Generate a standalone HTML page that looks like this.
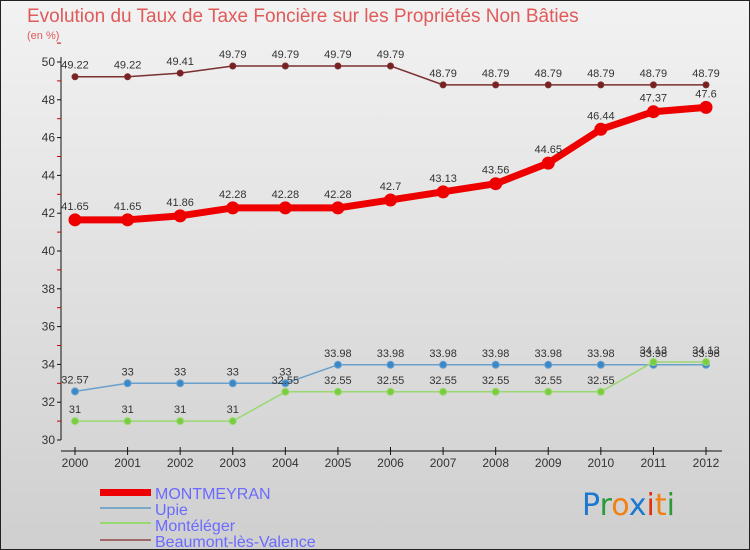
<!DOCTYPE html>
<html><head><meta charset="utf-8"><style>
body{margin:0;}
svg{display:block;font-family:"Liberation Sans",sans-serif;}
</style></head><body>
<svg width="750" height="550" viewBox="0 0 750 550">
<defs><linearGradient id="bg" x1="0" y1="0" x2="0" y2="1"><stop offset="0" stop-color="#f2f2f2"/><stop offset="1" stop-color="#cfcfcf"/></linearGradient></defs>
<rect x="0.5" y="0.5" width="749" height="549" fill="url(#bg)" stroke="#222"/>
<text x="27" y="22" font-size="19" fill="#e05a5a">Evolution du Taux de Taxe Foncière sur les Propriétés Non Bâties</text>
<text x="27" y="39" font-size="11" fill="#e05a5a">(en %)</text>
<g id="axes"></g>
<g id="series"></g>
<g>
<rect x="100" y="489" width="51" height="7" fill="#e00"/>
<text x="155" y="499" font-size="16" fill="#6a6aff">MONTMEYRAN</text>
<rect x="100" y="507" width="51" height="2" fill="#7aa8c8"/>
<text x="155" y="515" font-size="16" fill="#6a6aff">Upie</text>
<rect x="100" y="522" width="51" height="2" fill="#98d870"/>
<text x="155" y="531" font-size="16" fill="#6a6aff">Montéléger</text>
<rect x="100" y="539" width="51" height="2" fill="#a06868"/>
<text x="155" y="547" font-size="16" fill="#6a6aff">Beaumont-lès-Valence</text>
</g>
<g font-size="30" font-family="'DejaVu Sans',sans-serif">
<text x="582" y="515"><tspan fill="#1a78d0">P</tspan><tspan fill="#2a9a3a">r</tspan><tspan fill="#f08010">o</tspan><tspan fill="#1a78d0">x</tspan><tspan fill="#e03010">i</tspan><tspan fill="#f08010">t</tspan><tspan fill="#2a9a3a">i</tspan></text>
</g>
</svg>
<script>
const years=[2000,2001,2002,2003,2004,2005,2006,2007,2008,2009,2010,2011,2012];
const montmeyran=[41.65,41.65,41.86,42.28,42.28,42.28,42.7,43.13,43.56,44.65,46.44,47.37,47.6];
const upie=[32.57,33,33,33,33,33.98,33.98,33.98,33.98,33.98,33.98,33.98,33.98];
const monteleger=[31,31,31,31,32.55,32.55,32.55,32.55,32.55,32.55,32.55,34.13,34.13];
const beaumont=[49.22,49.22,49.41,49.79,49.79,49.79,49.79,48.79,48.79,48.79,48.79,48.79,48.79];
const yTicks=[30,32,34,36,38,40,42,44,46,48,50];
const NS="http://www.w3.org/2000/svg";
const X=i=>75+i*(706-75)/(years.length-1);
const Y=v=>440-(v-30)*18.9;
function mk(tag,attrs,parent){const e=document.createElementNS(NS,tag);for(const k in attrs)e.setAttribute(k,attrs[k]);parent.appendChild(e);return e;}
const ax=document.getElementById('axes');
let l=mk('line',{x1:61,y1:Y(50)-5,x2:61,y2:Y(30),stroke:'#111'},ax);


yTicks.forEach(t=>{
  mk('line',{x1:57,y1:Y(t),x2:61,y2:Y(t),stroke:'#111'},ax);
  mk('line',{x1:57,y1:Y(t+1),x2:61,y2:Y(t+1),stroke:'#c00'},ax);
  const tx=mk('text',{x:55,y:Y(t)+4,'font-size':12,'text-anchor':'end',fill:'#333'},ax);
  tx.textContent=t;
  
  
});
l=mk('line',{x1:61,y1:451,x2:722,y2:451,stroke:'#111'},ax);


years.forEach((yr,i)=>{
  mk('line',{x1:X(i),y1:447,x2:X(i),y2:455,stroke:'#111'},ax);
  const tx=mk('text',{x:X(i),y:467,'font-size':12,'text-anchor':'middle',fill:'#333'},ax);
  tx.textContent=yr;
  
  
});
const sg=document.getElementById('series');
function draw(name,vals,color,dot,w,r){
  const g=mk('g',{},sg);
  
  
  const p=mk('polyline',{points:vals.map((v,i)=>X(i)+','+Y(v)).join(' '),fill:'none',stroke:color,'stroke-width':w,'stroke-linejoin':'round'},g);
  
  
  vals.forEach((v,i)=>{
    const c=mk('circle',{cx:X(i),cy:Y(v),r:r,fill:dot,stroke:color,'stroke-width':1},g);
    
    
    const t=mk('text',{x:X(i),y:Y(v)-8-(r>4?2:0),'font-size':11,'text-anchor':'middle',fill:'#333'},g);
    t.textContent=v;
    
    
  });
}
draw('beaumont',beaumont,'#7a3030','#7a2020',1.5,3);
draw('upie',upie,'#6aa0cc','#3a88c8',1.5,3.5);
draw('monteleger',monteleger,'#9ad870','#7acc40',1.5,3.5);
draw('montmeyran',montmeyran,'#ee0000','#ee0000',7,6);
</script>
</body></html>
